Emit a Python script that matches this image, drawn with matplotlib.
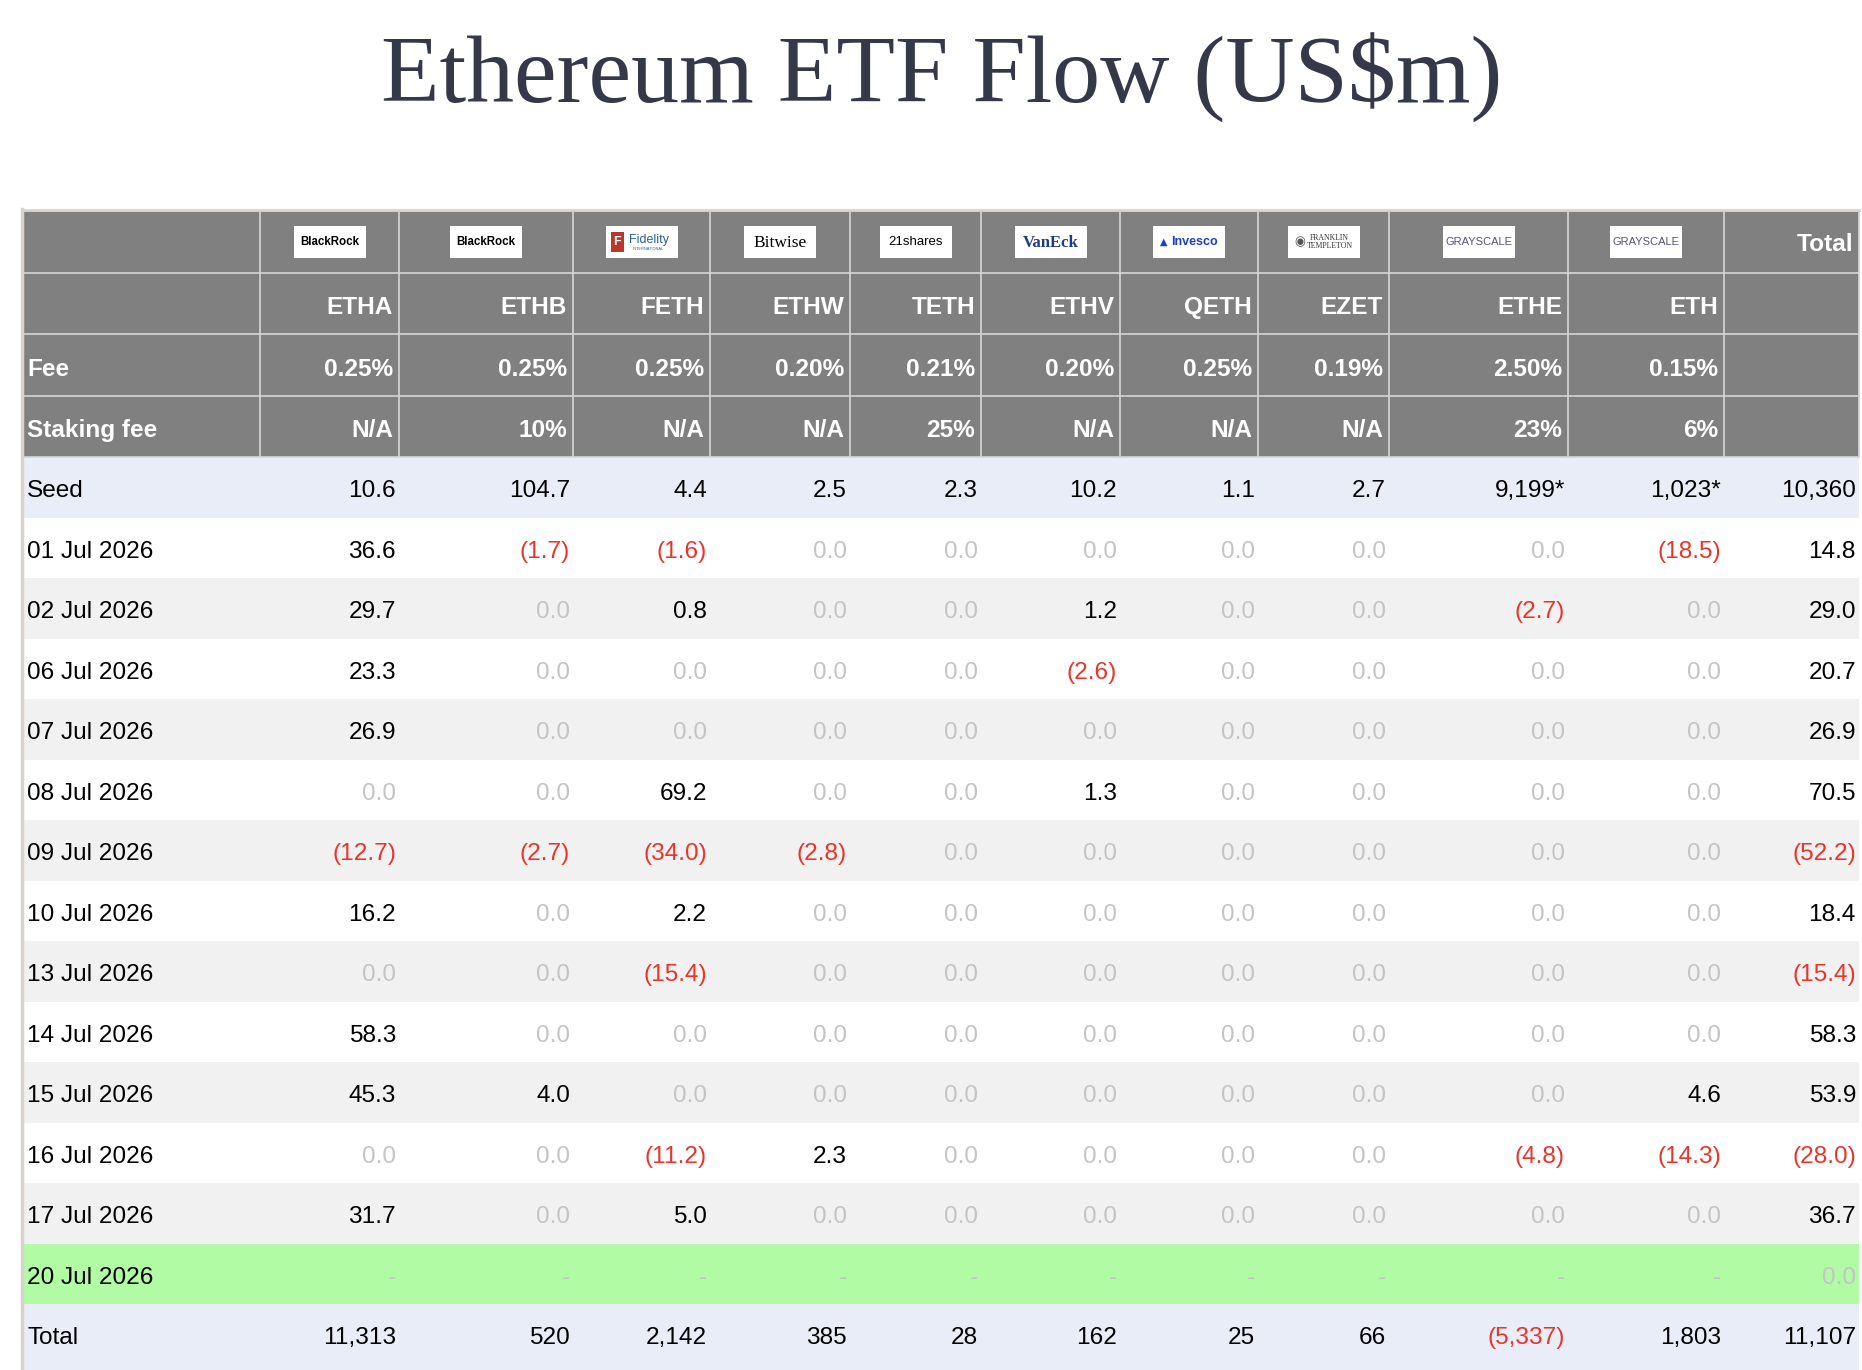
import matplotlib.pyplot as plt
from matplotlib.patches import Rectangle

# ---- data -------------------------------------------------------------
issuers = ["BlackRock", "BlackRock", "Fidelity", "Bitwise", "21shares",
           "VanEck", "Invesco", "Franklin", "Grayscale", "Grayscale"]
tickers = ["ETHA", "ETHB", "FETH", "ETHW", "TETH", "ETHV", "QETH", "EZET", "ETHE", "ETH"]
fees = ["0.25%", "0.25%", "0.25%", "0.20%", "0.21%", "0.20%", "0.25%", "0.19%", "2.50%", "0.15%"]
staking = ["N/A", "10%", "N/A", "N/A", "25%", "N/A", "N/A", "N/A", "23%", "6%"]

seed = [10.6, 104.7, 4.4, 2.5, 2.3, 10.2, 1.1, 2.7, 9199, 1023]
seed_star = [False] * 8 + [True, True]
seed_total = 10360

dates = ["01 Jul 2026", "02 Jul 2026", "06 Jul 2026", "07 Jul 2026", "08 Jul 2026",
         "09 Jul 2026", "10 Jul 2026", "13 Jul 2026", "14 Jul 2026", "15 Jul 2026",
         "16 Jul 2026", "17 Jul 2026", "20 Jul 2026"]
flows = [
    [36.6, -1.7, -1.6, 0, 0, 0, 0, 0, 0, -18.5],
    [29.7, 0, 0.8, 0, 0, 1.2, 0, 0, -2.7, 0],
    [23.3, 0, 0, 0, 0, -2.6, 0, 0, 0, 0],
    [26.9, 0, 0, 0, 0, 0, 0, 0, 0, 0],
    [0, 0, 69.2, 0, 0, 1.3, 0, 0, 0, 0],
    [-12.7, -2.7, -34.0, -2.8, 0, 0, 0, 0, 0, 0],
    [16.2, 0, 2.2, 0, 0, 0, 0, 0, 0, 0],
    [0, 0, -15.4, 0, 0, 0, 0, 0, 0, 0],
    [58.3, 0, 0, 0, 0, 0, 0, 0, 0, 0],
    [45.3, 4.0, 0, 0, 0, 0, 0, 0, 0, 4.6],
    [0, 0, -11.2, 2.3, 0, 0, 0, 0, -4.8, -14.3],
    [31.7, 0, 5.0, 0, 0, 0, 0, 0, 0, 0],
    [None] * 10,
]
daily_totals = [14.8, 29.0, 20.7, 26.9, 70.5, -52.2, 18.4, -15.4, 58.3, 53.9, -28.0, 36.7, 0.0]

fund_totals = [11313, 520, 2142, 385, 28, 162, 25, 66, -5337, 1803]
grand_total = 11107

# ---- layout / style ---------------------------------------------------
W, H = 1862, 1370
col_edges = [23, 260, 399, 573, 710, 850, 981, 1120, 1258, 1389, 1568, 1724, 1859]
head_edges = [211, 273, 334, 396, 457]
row_h = 60.5
head_pad = 6
body_pad = 3
dy = 4  # text sits a little below the geometric middle of each row

HEADER_BG = "#808080"
GRID = "#d6d6d6"
SEED_BG = "#e9edf8"
ALT_BG = "#f1f1f1"
TODAY_BG = "#b1fba4"
RED = "#e8352b"
ZERO = "#c4c4c4"
TITLE_C = "#353849"
FONT = "Liberation Sans"
FS = 17.6

fig = plt.figure(figsize=(W / 100, H / 100), dpi=100)
ax = fig.add_axes([0, 0, 1, 1])
ax.set_xlim(0, W)
ax.set_ylim(H, 0)
ax.axis("off")

ax.text(942, 103, "Ethereum ETF Flow (US$m)", ha="center", va="baseline",
        fontsize=69, family="Liberation Serif", color=TITLE_C)


def fmt(v, decimals=1):
    s = f"{abs(v):,.0f}" if (abs(v) >= 1000 or decimals == 0) else f"{abs(v):.1f}"
    return f"({s})" if v < 0 else s


def val_color(v):
    if v < 0:
        return RED
    if v == 0:
        return ZERO
    return "black"


def cell_text(ci, yc, s, color="black", bold=False, left=False, pad=body_pad):
    if left:
        x, ha = col_edges[ci] + 4, "left"
    else:
        x, ha = col_edges[ci + 1] - pad, "right"
    ax.text(x, yc + dy, s, ha=ha, va="center", fontsize=FS, family=FONT, color=color,
            fontweight="bold" if bold else "normal")


def head_text(ci, yc, s, left=False):
    cell_text(ci, yc, s, color="white", bold=True, left=left, pad=head_pad)


def draw_logo(cx, cy, name):
    ax.add_patch(Rectangle((cx - 36, cy - 16), 72, 32, facecolor="white", edgecolor="none", zorder=3))
    kw = dict(ha="center", va="center", zorder=4)
    if name == "BlackRock":
        ax.text(cx, cy, "BlackRock", fontsize=8.3, fontweight="bold", family=FONT, color="black", **kw)
    elif name == "Fidelity":
        ax.add_patch(Rectangle((cx - 31, cy - 10), 13, 20, facecolor="#b8372d", edgecolor="none", zorder=4))
        ax.text(cx - 24.5, cy, "F", fontsize=9, fontweight="bold", color="white", family=FONT, **kw)
        ax.text(cx + 7, cy - 2, "Fidelity", fontsize=9, color="#2d5f9a", family=FONT, **kw)
        ax.text(cx + 7, cy + 7, "INTERNATIONAL", fontsize=2.8, color="#2d5f9a", family=FONT, **kw)
    elif name == "Bitwise":
        ax.text(cx, cy + 1, "Bitwise", fontsize=12.5, family="Liberation Serif", color="black", **kw)
    elif name == "21shares":
        ax.text(cx, cy, "21shares", fontsize=9.5, family=FONT, color="black", **kw)
    elif name == "VanEck":
        ax.text(cx, cy + 1, "VanEck", fontsize=12, fontweight="bold", family="Liberation Serif",
                color="#1f3a8a", **kw)
    elif name == "Invesco":
        ax.text(cx - 25, cy, "\u25b2", fontsize=7, color="#1a3fc4", family="DejaVu Sans", **kw)
        ax.text(cx + 5, cy, "Invesco", fontsize=9, fontweight="bold", family=FONT, color="#1a3fc4", **kw)
    elif name == "Franklin":
        ax.text(cx - 24, cy, "\u25c9", fontsize=9, color="#555555", family="DejaVu Sans", **kw)
        ax.text(cx + 6, cy, "FRANKLIN\nTEMPLETON", fontsize=5.6, family="Liberation Serif",
                color="#333333", linespacing=0.9, **kw)
    elif name == "Grayscale":
        ax.text(cx, cy, "GRAYSCALE", fontsize=8, family=FONT, color="#5b5470", **kw)


# ---- header block ------------------------------------------------------
x0, x1 = col_edges[0], col_edges[-1]
ax.add_patch(Rectangle((x0, head_edges[0]), x1 - x0, head_edges[-1] - head_edges[0],
                       facecolor=HEADER_BG, edgecolor="none", zorder=1))
for y in head_edges:
    ax.plot([x0, x1], [y, y], color=GRID, lw=1.2, zorder=2)
for x in col_edges:
    ax.plot([x, x], [head_edges[0], head_edges[-1]], color=GRID, lw=1.2, zorder=2)
ax.plot([x0, x1], [head_edges[0] - 1, head_edges[0] - 1], color="#d8d4cc", lw=2, zorder=2)

mids = [(head_edges[i] + head_edges[i + 1]) / 2 for i in range(4)]
for i, name in enumerate(issuers):
    cx = (col_edges[i + 1] + col_edges[i + 2]) / 2
    draw_logo(cx, mids[0], name)
    head_text(i + 1, mids[1], tickers[i])
    head_text(i + 1, mids[2], fees[i])
    head_text(i + 1, mids[3], staking[i])
head_text(11, mids[0] - 2, "Total")
head_text(0, mids[2], "Fee", left=True)
head_text(0, mids[3], "Staking fee", left=True)

# ---- body rows ---------------------------------------------------------
y = head_edges[-1]


def row_bg(top, color, height=row_h):
    ax.add_patch(Rectangle((x0, top), x1 - x0, height, facecolor=color, edgecolor="none", zorder=1))


# seed
row_bg(y, SEED_BG)
yc = y + row_h / 2
cell_text(0, yc, "Seed", left=True)
for i, v in enumerate(seed):
    cell_text(i + 1, yc, fmt(v) + ("*" if seed_star[i] else ""))
cell_text(11, yc, fmt(seed_total))
y += row_h

# daily flows
for r, (d, vals, tot) in enumerate(zip(dates, flows, daily_totals)):
    if vals[0] is None:
        bg = TODAY_BG
    else:
        bg = "white" if r % 2 == 0 else ALT_BG
    row_bg(y, bg)
    yc = y + row_h / 2
    cell_text(0, yc, d, left=True)
    for i, v in enumerate(vals):
        if v is None:
            cell_text(i + 1, yc, "-", color=ZERO)
        else:
            cell_text(i + 1, yc, fmt(v), color=val_color(v))
    cell_text(11, yc, fmt(tot), color=val_color(tot))
    y += row_h

# totals
row_bg(y, SEED_BG, H - y)
yc = y + row_h / 2
cell_text(0, yc, "Total", left=True)
for i, v in enumerate(fund_totals):
    cell_text(i + 1, yc, fmt(v, 0), color=RED if v < 0 else "black")
cell_text(11, yc, fmt(grand_total, 0))

# left border of the table
ax.plot([x0 - 1, x0 - 1], [head_edges[0] - 2, H], color="#d8d4cc", lw=2.5, zorder=2)

fig.savefig("out.png", dpi=100)
